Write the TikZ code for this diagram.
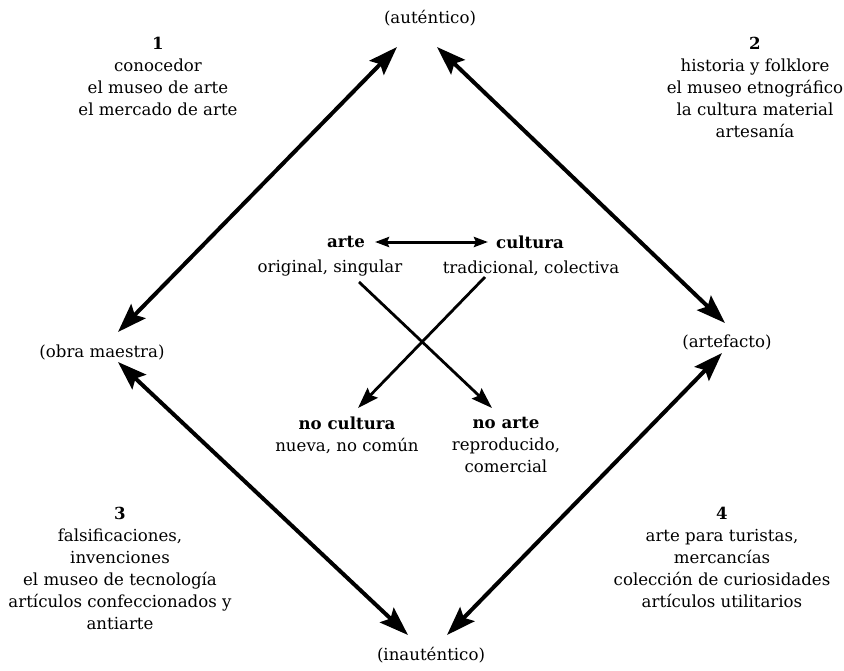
\documentclass[tikz,border=0pt]{standalone}
\usepackage{fontspec}
\setmainfont{DejaVu Serif}
\usetikzlibrary{arrows.meta}
\begin{document}
\begin{tikzpicture}[x=1pt,y=-1pt,
  lbl/.style={inner sep=0pt,align=center,font=\fontsize{16.6}{22}\selectfont},
  big/.style={line width=4pt,{Stealth[length=29pt,width=20pt,inset=5pt]}-{Stealth[length=29pt,width=20pt,inset=5pt]}},
  mid/.style={line width=2.8pt,-{Stealth[length=21pt,width=14pt,inset=3pt]}},
  dbl/.style={line width=3pt,{Stealth[length=14pt,width=10pt,inset=2pt]}-{Stealth[length=14pt,width=10pt,inset=2pt]}}]
\useasboundingbox (0,0) rectangle (844,670);
% corner labels
\node[lbl] (aut) at (430,18) {(auténtico)};
\node[lbl] (inaut) at (431,655) {(inauténtico)};
\node[lbl] (obra) at (102,352) {(obra maestra)};
\node[lbl] (artef) at (727,342) {(artefacto)};
% quadrant blocks
\node[lbl,anchor=north] (q1) at (158,37) {\textbf{1}\\conocedor\\el museo de arte\\el mercado de arte};
\node[lbl,anchor=north] (q2) at (755,37) {\textbf{2}\\historia y folklore\\el museo etnográfico\\la cultura material\\artesanía};
\node[lbl,anchor=north] (q3) at (120,507) {\textbf{3}\\falsificaciones,\\invenciones\\el museo de tecnología\\artículos confeccionados y\\antiarte};
\node[lbl,anchor=north] (q4) at (722,507) {\textbf{4}\\arte para turistas,\\mercancías\\colección de curiosidades\\artículos utilitarios};
% centre
\node[lbl] (arte) at (346,242) {\textbf{arte}};
\node[lbl] (cult) at (530,242) {\textbf{cultura}};
\node[lbl] (orig) at (330,268) {original, singular};
\node[lbl] (trad) at (531,268) {tradicional, colectiva};
\node[lbl,anchor=north] (nocult) at (347,417) {\textbf{no cultura}\\nueva, no común};
\node[lbl,anchor=north] (noarte) at (506,417) {\textbf{no arte}\\reproducido,\\comercial};
% arrow ends
\coordinate (a1) at (397,47);
\coordinate (a2) at (118,332);
\coordinate (b1) at (437,47);
\coordinate (b2) at (725,323);
\coordinate (c1) at (118,362);
\coordinate (c2) at (408,635);
\coordinate (d1) at (722,353);
\coordinate (d2) at (447,635);
\coordinate (e1) at (359,282);
\coordinate (e2) at (492,408);
\coordinate (f1) at (485,277);
\coordinate (f2) at (358,408);
\coordinate (g1) at (375,242);
\coordinate (g2) at (488,242);
\draw[big] (a1) -- (a2);
\draw[big] (b1) -- (b2);
\draw[big] (c1) -- (c2);
\draw[big] (d1) -- (d2);
\draw[mid] (e1) -- (e2);
\draw[mid] (f1) -- (f2);
\draw[dbl] (g1) -- (g2);
\end{tikzpicture}
\end{document}
